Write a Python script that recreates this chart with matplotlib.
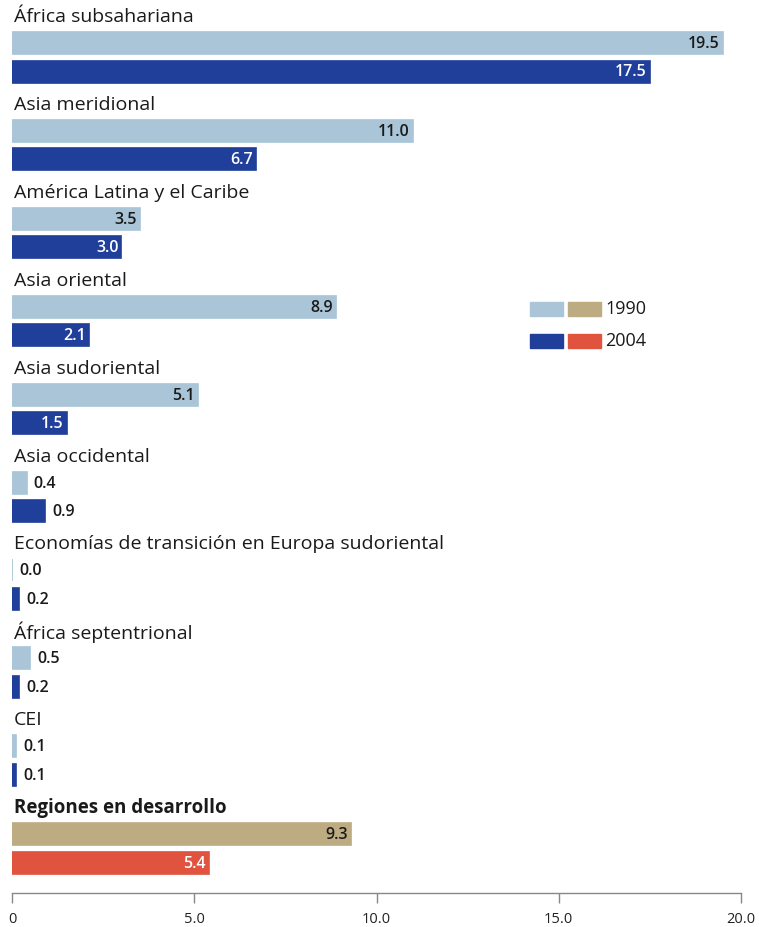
import matplotlib
matplotlib.use("Agg")
import matplotlib.pyplot as plt
from matplotlib.patches import Rectangle

# Data
regions = ["África subsahariana", "Asia meridional", "América Latina y el Caribe",
           "Asia oriental", "Asia sudoriental", "Asia occidental",
           "Economías de transición en Europa sudoriental", "África septentrional",
           "CEI", "Regiones en desarrollo"]
v1990 = [19.5, 11.0, 3.5, 8.9, 5.1, 0.4, 0.0, 0.5, 0.1, 9.3]
v2004 = [17.5, 6.7, 3.0, 2.1, 1.5, 0.9, 0.2, 0.2, 0.1, 5.4]
xticks = [0, 5, 10, 15, 20]
xtick_labels = ["0", "5.0", "10.0", "15.0", "20.0"]

# Styles
C1990 = "#a9c5d7"
C2004 = "#1f3f9b"
C1990_TOT = "#bdac81"
C2004_TOT = "#e0533f"
TXT = "#1a1a1a"
FONT = "Open Sans"

W, H = 759, 927
fig = plt.figure(figsize=(W / 100, H / 100), dpi=100)
ax = fig.add_axes([12 / W, (H - 893) / H, 729 / W, 893 / H])
ax.set_xlim(0, 20)
ax.set_ylim(893, 0)

step = 87.9
first = 43
gap = 28.5
bh = 22

for i, name in enumerate(regions):
    y1 = first + i * step
    y2 = y1 + gap
    total = (i == len(regions) - 1)
    c1 = C1990_TOT if total else C1990
    c2 = C2004_TOT if total else C2004
    ax.text(0.05, y1 - 26, name, fontsize=13.5 if total else 14,
            fontweight="bold" if total else "normal",
            family=FONT, color=TXT, va="center", ha="left")
    for y, v, c, light in [(y1, v1990[i], c1, True), (y2, v2004[i], c2, False)]:
        ax.barh(y, v, height=bh, color=c, edgecolor=c, linewidth=1.2)
        lbl = f"{v:.1f}"
        if v >= 1.4:
            ax.text(v - 0.08, y + 1, lbl, ha="right", va="center", fontsize=11.5,
                    fontweight="semibold", family=FONT,
                    color=TXT if light else "white")
        else:
            ax.text(v + 0.2, y + 1, lbl, ha="left", va="center", fontsize=11.5,
                    fontweight="semibold", family=FONT, color=TXT)

# legend
for j, (ca, cb, lab) in enumerate([(C1990, C1990_TOT, "1990"), (C2004, C2004_TOT, "2004")]):
    yy = 309 + j * 32
    fig.add_artist(Rectangle((530 / W, (H - yy - 7) / H), 33 / W, 14 / H,
                             transform=fig.transFigure, color=ca))
    fig.add_artist(Rectangle((568 / W, (H - yy - 7) / H), 33 / W, 14 / H,
                             transform=fig.transFigure, color=cb))
    fig.text(605 / W, (H - yy) / H, lab, fontsize=13, family=FONT, color=TXT,
             va="center", ha="left")

for s in ["top", "right", "left"]:
    ax.spines[s].set_visible(False)
ax.spines["bottom"].set_color("#888888")
ax.spines["bottom"].set_linewidth(1)
ax.set_yticks([])
ax.set_xticks(xticks)
ax.set_xticklabels(xtick_labels, family=FONT, fontsize=10.5, color="#222222")
ax.tick_params(axis="x", direction="out", length=7.5, width=1, color="#888888", pad=6)

fig.savefig("out.png", dpi=100)
